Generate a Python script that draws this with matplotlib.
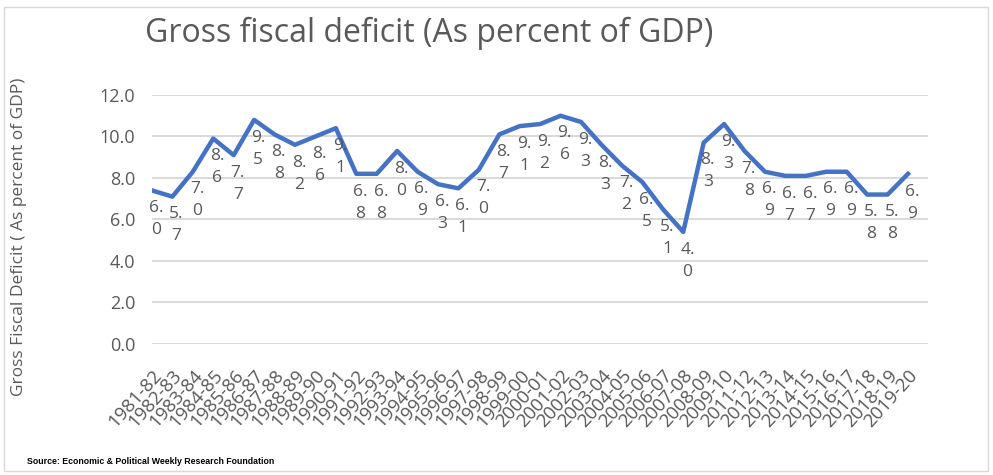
import matplotlib.pyplot as plt
from matplotlib.patches import Rectangle

# categorias del eje x (falta 2010-11 en el original)
years = ["1981-82", "1982-83", "1983-84", "1984-85", "1985-86", "1986-87",
         "1987-88", "1988-89", "1989-90", "1990-91", "1991-92", "1992-93",
         "1993-94", "1994-95", "1995-96", "1996-97", "1997-98", "1998-99",
         "1999-00", "2000-01", "2001-02", "2002-03", "2003-04", "2004-05",
         "2005-06", "2006-07", "2007-08", "2008-09", "2009-10", "2011-12",
         "2012-13", "2013-14", "2014-15", "2015-16", "2016-17", "2017-18",
         "2018-19", "2019-20"]

# valores de la linea
deficit = [7.4, 7.1, 8.3, 9.9, 9.1, 10.8, 10.1, 9.6, 10.0, 10.4,
           8.2, 8.2, 9.3, 8.3, 7.7, 7.5, 8.4, 10.1, 10.5, 10.6,
           11.0, 10.7, 9.6, 8.6, 7.8, 6.5, 5.4, 9.7, 10.6, 9.3,
           8.3, 8.1, 8.1, 8.3, 8.3, 7.2, 7.2, 8.2]

# etiquetas de datos tal como aparecen
etiquetas = [6.0, 5.7, 7.0, 8.6, 7.7, 9.5, 8.8, 8.2, 8.6, 9.1,
             6.8, 6.8, 8.0, 6.9, 6.3, 6.1, 7.0, 8.7, 9.1, 9.2,
             9.6, 9.3, 8.3, 7.2, 6.5, 5.1, 4.0, 8.3, 9.3, 7.8,
             6.9, 6.7, 6.7, 6.9, 6.9, 5.8, 5.8, 6.9]

gris = "#595959"
fuente = ["Open Sans", "DejaVu Sans"]

fig = plt.figure(figsize=(9.93, 4.75), dpi=100)
ax = fig.add_axes([0.153, 0.276, 0.782, 0.524])

x = list(range(len(years)))
ax.plot(x, deficit, color="#4472C4", linewidth=3.2, solid_joinstyle="round")

# etiquetas partidas en dos lineas como en Excel
for xi, yi, et in zip(x, deficit, etiquetas):
    txt = f"{et:.1f}"
    ax.annotate(txt[:2] + "\n" + txt[2:], (xi, yi), xytext=(3, -7),
                textcoords="offset points", ha="center", va="top",
                fontsize=12.5, color=gris, family=fuente, linespacing=1.5)

ax.set_xlim(0, 38)
ax.set_ylim(0, 12)
ax.set_yticks([0, 2, 4, 6, 8, 10, 12])
ax.set_yticklabels([f"{v:.1f}" for v in ax.get_yticks()], family=fuente,
                   fontsize=13, color=gris)
ax.set_xticks(x)
ax.set_xticklabels(years, rotation=48, ha="right", rotation_mode="anchor",
                   family=fuente, fontsize=13.5, color=gris)
ax.tick_params(length=0)
ax.tick_params(axis="y", pad=12)
ax.tick_params(axis="x", pad=16)
ax.grid(axis="y", color="#d9d9d9", linewidth=1.4)
ax.set_axisbelow(True)
for s in ax.spines.values():
    s.set_visible(False)

# titulo del eje y, algo por debajo del centro como en el original
fig.text(19 / 993, 1 - 237 / 475, "Gross Fiscal Deficit ( As percent of GDP)",
         family=fuente, fontsize=12.5, color=gris, rotation=90,
         ha="center", va="center")

fig.text(145 / 993, 1 - 33 / 475, "Gross fiscal deficit (As percent of GDP)",
         family=fuente, fontsize=23, color=gris, ha="left", va="center")

fig.text(27 / 993, 1 - 462 / 475,
         "Source: Economic & Political Weekly Research Foundation",
         family=["Liberation Sans", "DejaVu Sans"], fontsize=6.3,
         fontweight="bold", color="black", ha="left", va="center")

# marco del area del grafico
fig.patches.append(Rectangle((0.004, 0.008), 0.991, 0.978, transform=fig.transFigure,
                             fill=False, edgecolor="#d9d9d9", linewidth=1))

fig.savefig("out.png", dpi=100)
